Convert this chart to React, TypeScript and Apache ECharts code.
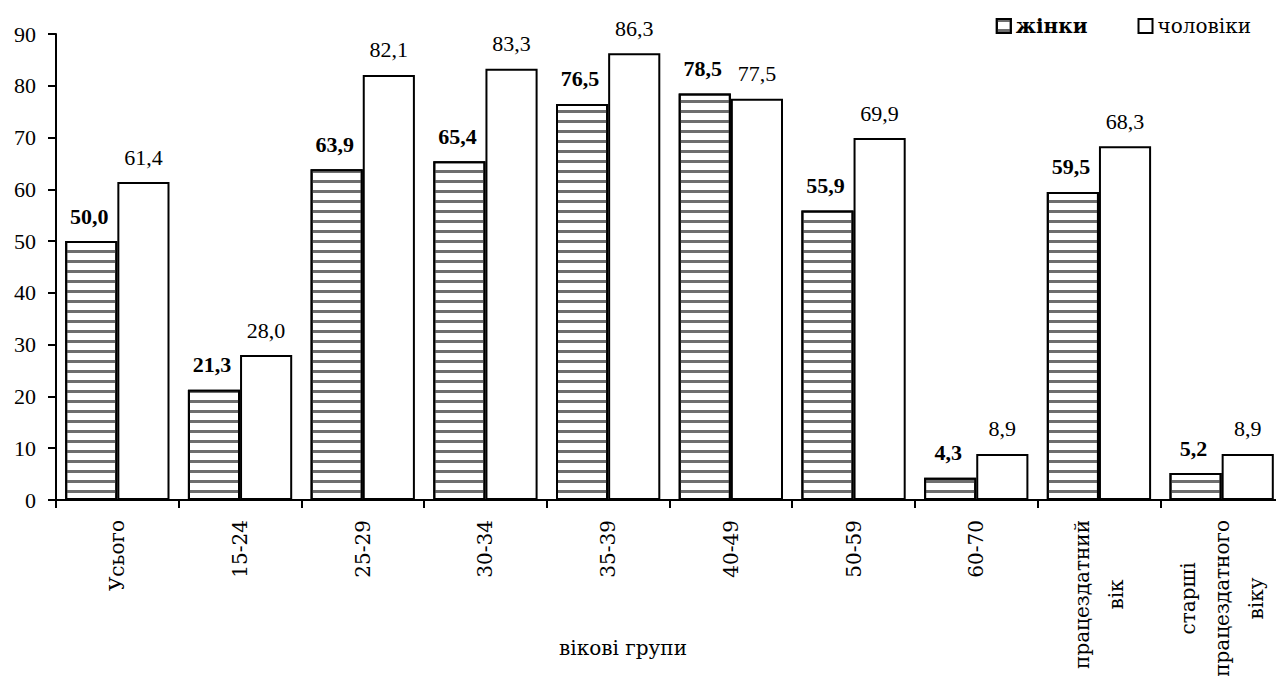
import React, { useEffect, useRef } from "react";
import * as echarts from "echarts";

const categories = [
  "Усього",
  "15-24",
  "25-29",
  "30-34",
  "35-39",
  "40-49",
  "50-59",
  "60-70",
  "працездатний\nвік",
  "старші\nпрацездатного\nвіку",
];
const women = [50.0, 21.3, 63.9, 65.4, 76.5, 78.5, 55.9, 4.3, 59.5, 5.2];
const men = [61.4, 28.0, 82.1, 83.3, 86.3, 77.5, 69.9, 8.9, 68.3, 8.9];
const yTicks = [0, 10, 20, 30, 40, 50, 60, 70, 80, 90];
const seriesNames = ["жінки", "чоловіки"];
const axisTitle = "вікові групи";

const FONT = "'Liberation Serif', serif";
const FONT2 = "'DejaVu Serif'";
const FS = 22;
const FSX = 20;

const fmt = (v: number) => v.toFixed(1).replace(".", ",");

export default function App() {
  const ref = useRef<HTMLDivElement>(null);
  useEffect(() => {
    if (!ref.current) return;
    const chart = echarts.init(ref.current, undefined, { renderer: "svg" });
    const decal = {
      symbol: "rect",
      symbolSize: 1,
      color: "#6e6e6e",
      dashArrayX: [1, 0],
      dashArrayY: [3, 7],
      rotation: 0,
    };
    chart.setOption({
      animation: false,
      backgroundColor: "#fff",
      textStyle: { fontFamily: FONT, color: "#000" },
      grid: {
        left: 56,
        top: 34,
        width: 1227,
        height: 466,
        containLabel: false,
        outerBoundsMode: "none",
      },
      legend: {
        right: 20,
        top: 11,
        icon: "rect",
        itemWidth: 14,
        itemHeight: 14,
        itemGap: 50,
        itemTextGap: 7,
        data: seriesNames,
        formatter: (n: string) => (n === seriesNames[0] ? `{b|${n}}` : `{n|${n}}`),
        textStyle: {
          fontFamily: FONT2,
          fontSize: 20,
          color: "#000",
          rich: {
            b: { fontFamily: FONT2, fontSize: 20, fontWeight: "bold", color: "#000" },
            n: { fontFamily: FONT2, fontSize: 20, color: "#000" },
          },
        },
      },
      xAxis: {
        type: "category",
        data: categories,
        axisLine: { lineStyle: { color: "#000", width: 2 } },
        axisTick: { show: true, length: 8, lineStyle: { color: "#000", width: 2 } },
        axisLabel: {
          rotate: 90,
          margin: 20,
          interval: 0,
          color: "#000",
          fontFamily: FONT2,
          fontSize: FSX,
          lineHeight: 34,
          formatter: (v: string) =>
            v.indexOf("\n") >= 0
              ? v
                  .split("\n")
                  .map((l) => `{c|${l}}`)
                  .join("\n")
              : v,
          rich: {
            c: { align: "center", fontFamily: FONT2, fontSize: FSX, lineHeight: 34, color: "#000" },
          },
        },
        splitLine: { show: false },
      },
      yAxis: {
        type: "value",
        min: yTicks[0],
        max: yTicks[yTicks.length - 1],
        interval: 10,
        axisLine: { show: true, lineStyle: { color: "#000", width: 2 } },
        axisTick: { show: true, length: 8, lineStyle: { color: "#000", width: 2 } },
        axisLabel: { margin: 20, color: "#000", fontFamily: FONT, fontSize: FS },
        splitLine: { show: false },
      },
      graphic: [
        {
          type: "text",
          x: 623,
          y: 648,
          style: {
            text: axisTitle,
            font: `20px ${FONT2}`,
            fill: "#000",
            align: "center",
            verticalAlign: "middle",
          },
        },
      ],
      series: [
        {
          name: seriesNames[0],
          type: "bar",
          data: women,
          barGap: "0%",
          barCategoryGap: "15%",
          itemStyle: { color: "#fff", borderColor: "#000", borderWidth: 2, decal },
          label: {
            show: true,
            position: "top",
            distance: 14,
            offset: [-2, 0],
            formatter: (p: any) => fmt(p.value),
            fontFamily: FONT,
            fontSize: FS,
            fontWeight: "bold",
            color: "#000",
          },
        },
        {
          name: seriesNames[1],
          type: "bar",
          data: men,
          barGap: "0%",
          barCategoryGap: "15%",
          itemStyle: { color: "#fff", borderColor: "#000", borderWidth: 2 },
          label: {
            show: true,
            position: "top",
            distance: 14,
            formatter: (p: any) => fmt(p.value),
            fontFamily: FONT,
            fontSize: FS,
            color: "#000",
          },
        },
      ],
    });
    return () => chart.dispose();
  }, []);
  return (
    <div
      ref={ref}
      style={{ position: "fixed", left: 0, top: 0, width: 1276, height: 677, background: "#fff" }}
    />
  );
}
